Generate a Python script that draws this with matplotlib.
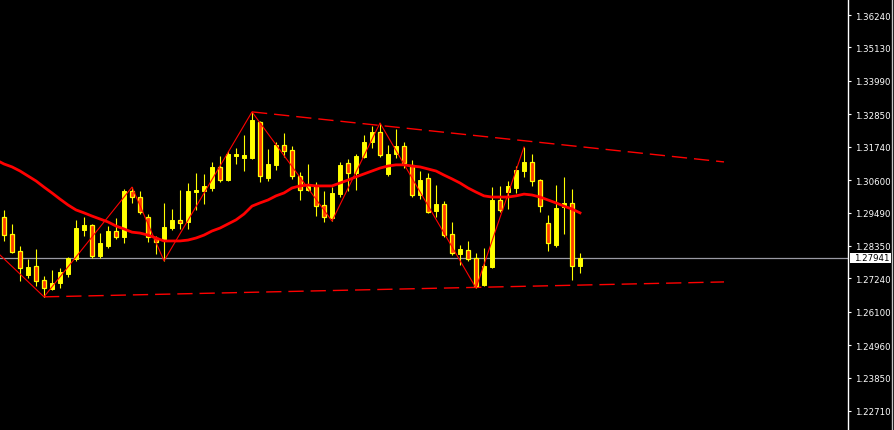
import numpy as np
import matplotlib
matplotlib.use("Agg")
import matplotlib.pyplot as plt
from matplotlib.patches import Rectangle
from matplotlib.lines import Line2D
import matplotlib.transforms as mtransforms

# candles, oldest first
opens = [1.2934, 1.2876, 1.2818, 1.2736, 1.2767, 1.2719, 1.2688, 1.2708, 1.2739, 1.2790,
         1.2889, 1.2906, 1.2801, 1.2835, 1.2886, 1.2866, 1.3023, 1.3002, 1.2934, 1.2862,
         1.2855, 1.2896, 1.2924, 1.2917, 1.3019, 1.3023, 1.3033, 1.3105, 1.3060, 1.3142,
         1.3135, 1.3135, 1.3258, 1.3067, 1.3112, 1.3180, 1.3163, 1.3074, 1.3026, 1.3043,
         1.2975, 1.2930, 1.3012, 1.3118, 1.3084, 1.3139, 1.3190, 1.3224, 1.3081, 1.3149,
         1.3176, 1.3112, 1.3009, 1.3067, 1.2954, 1.2978, 1.2876, 1.2807, 1.2821, 1.2794,
         1.2701, 1.2763, 1.2992, 1.3019, 1.3033, 1.3091, 1.3122, 1.3060, 1.2913, 1.2838,
         1.2968, 1.2982, 1.2767]
highs = [1.2958, 1.2910, 1.2835, 1.2790, 1.2824, 1.2732, 1.2753, 1.2760, 1.2797, 1.2924,
         1.2934, 1.2910, 1.2879, 1.2903, 1.2930, 1.3030, 1.3036, 1.3023, 1.2944, 1.2869,
         1.2982, 1.2961, 1.3026, 1.3050, 1.3084, 1.3081, 1.3122, 1.3142, 1.3159, 1.3170,
         1.3214, 1.3293, 1.3262, 1.3166, 1.3190, 1.3221, 1.3176, 1.3088, 1.3115, 1.3053,
         1.3023, 1.3036, 1.3122, 1.3132, 1.3149, 1.3214, 1.3245, 1.3255, 1.3180, 1.3234,
         1.3190, 1.3129, 1.3091, 1.3084, 1.3043, 1.2989, 1.2917, 1.2838, 1.2852, 1.2811,
         1.2828, 1.3036, 1.3040, 1.3057, 1.3108, 1.3173, 1.3149, 1.3064, 1.2941, 1.3043,
         1.3071, 1.3030, 1.2811]
lows = [1.2852, 1.2811, 1.2715, 1.2725, 1.2698, 1.2661, 1.2684, 1.2691, 1.2729, 1.2784,
        1.2869, 1.2794, 1.2794, 1.2828, 1.2859, 1.2845, 1.2982, 1.2944, 1.2848, 1.2807,
        1.2784, 1.2889, 1.2893, 1.2893, 1.2958, 1.2978, 1.3023, 1.3053, 1.3057, 1.3115,
        1.3091, 1.3132, 1.3053, 1.3057, 1.3094, 1.3139, 1.3064, 1.2992, 1.3023, 1.2937,
        1.2917, 1.2920, 1.3002, 1.3023, 1.3026, 1.3135, 1.3170, 1.3139, 1.3074, 1.3135,
        1.3101, 1.3002, 1.2995, 1.2948, 1.2934, 1.2866, 1.2804, 1.2770, 1.2784, 1.2691,
        1.2698, 1.2760, 1.2951, 1.2961, 1.3016, 1.3071, 1.3040, 1.2951, 1.2818, 1.2831,
        1.2876, 1.2719, 1.2743]
closes = [1.2872, 1.2814, 1.2760, 1.2763, 1.2715, 1.2691, 1.2708, 1.2746, 1.2794, 1.2896,
          1.2906, 1.2801, 1.2845, 1.2886, 1.2866, 1.3023, 1.3002, 1.2951, 1.2866, 1.2848,
          1.2900, 1.2924, 1.2913, 1.3023, 1.3026, 1.3040, 1.3105, 1.3060, 1.3149, 1.3149,
          1.3146, 1.3265, 1.3074, 1.3115, 1.3180, 1.3159, 1.3074, 1.3026, 1.3040, 1.2971,
          1.2934, 1.3016, 1.3112, 1.3084, 1.3142, 1.3190, 1.3224, 1.3146, 1.3149, 1.3176,
          1.3118, 1.3009, 1.3060, 1.2951, 1.2978, 1.2872, 1.2811, 1.2824, 1.2790, 1.2698,
          1.2767, 1.2992, 1.2958, 1.3040, 1.3094, 1.3122, 1.3057, 1.2971, 1.2845, 1.2965,
          1.2982, 1.2767, 1.27941]

# moving average, starts one bar before the first visible candle
ma_values = [1.3129, 1.3115, 1.3105, 1.3091, 1.3074, 1.3057, 1.3036, 1.3016, 1.2995, 1.2975,
             1.2958, 1.2948, 1.2937, 1.2927, 1.2917, 1.2903, 1.2893, 1.2882, 1.2879, 1.2872,
             1.2862, 1.2852, 1.2852, 1.2852, 1.2855, 1.2862, 1.2872, 1.2886, 1.2896, 1.2910,
             1.2924, 1.2944, 1.2971, 1.2982, 1.2992, 1.3006, 1.3016, 1.3033, 1.3040, 1.3043,
             1.3040, 1.3040, 1.3040, 1.3050, 1.3060, 1.3071, 1.3081, 1.3091, 1.3101, 1.3108,
             1.3112, 1.3112, 1.3108, 1.3105, 1.3098, 1.3091, 1.3077, 1.3064, 1.3050, 1.3033,
             1.3019, 1.3006, 1.3002, 1.3002, 1.3002, 1.3006, 1.3012, 1.3009, 1.3002, 1.2992,
             1.2982, 1.2971, 1.2961, 1.2948]

# zigzag pivots (bar index, price)
zz_idx = [-0.5, 5, 16, 20, 31, 41, 47, 59, 65]
zz_price = [1.2804, 1.2661, 1.3036, 1.2784, 1.3293, 1.2920, 1.3255, 1.2691, 1.3173]

# trend lines (bar index, price)
upper_idx = [31, 90]
upper_price = [1.3293, 1.3122]
lower_idx = [5, 90]
lower_price = [1.2661, 1.2712]

last_price = 1.27941
yticks = [1.36240, 1.35130, 1.33990, 1.32850, 1.31740, 1.30600, 1.29490,
          1.28350, 1.27240, 1.26100, 1.24960, 1.23850, 1.22710]

fig = plt.figure(figsize=(8.95, 4.31), dpi=100, facecolor='black')
ax = fig.add_axes([0, 0, 848 / 895, 1])
ax.set_facecolor('black')

n = len(opens)
x = np.arange(n)
o = np.array(opens); c = np.array(closes)
h = np.array(highs); l = np.array(lows)
up = c >= o

ax.vlines(x, l, h, color='#ffff00', lw=0.8, zorder=3)
body_lo = np.minimum(o, c)
body_h = np.maximum(np.abs(c - o), 0.0003)
ax.bar(x[up], body_h[up], bottom=body_lo[up], width=0.55,
       color='#ffff00', edgecolor='#ffff00', lw=0.7, zorder=4)
ax.bar(x[~up], body_h[~up], bottom=body_lo[~up], width=0.55,
       color='#ff3a00', edgecolor='#ffff00', lw=0.9, zorder=4)

ax.plot(np.arange(-1, n), ma_values, color='#ff0000', lw=2.0, zorder=5)
ax.plot(zz_idx, zz_price, color='#ff0000', lw=0.8, zorder=5)
ax.plot(upper_idx, upper_price, color='#ff0000', lw=1.0, ls=(0, (11, 5)), zorder=2)
ax.plot(lower_idx, lower_price, color='#ff0000', lw=1.0, ls=(0, (11, 5)), zorder=2)

ax.axhline(last_price, color='#9a9aa4', lw=0.9, zorder=1)

ax.set_xlim(-0.5, 105.5)
ax.set_ylim(1.220607, 1.367867)

ax.yaxis.tick_right()
ax.set_yticks(yticks)
ax.set_yticklabels(['%.5f' % v for v in yticks])
ax.tick_params(axis='y', colors='white', labelcolor='white', length=2.5, width=0.8,
               pad=2.5, labelsize=6.2)
ax.set_xticks([])
for s in ['top', 'bottom', 'left']:
    ax.spines[s].set_visible(False)
ax.spines['right'].set_color('white')
ax.spines['right'].set_linewidth(1.0)

# last price box on the price scale
tr = mtransforms.blended_transform_factory(fig.transFigure, ax.transData)
box_h = 10 * (1.367867 - 1.220607) / 431
fig.patches.append(Rectangle((850 / 895, last_price - box_h / 2), 41 / 895, box_h,
                             transform=tr, facecolor='white', edgecolor='none', zorder=10))
fig.text(854 / 895, last_price, '%.5f' % last_price, transform=tr, color='black',
         fontsize=6.2, va='center', ha='left', zorder=11)

fig.lines.append(Line2D([892 / 895, 892 / 895], [0, 1], transform=fig.transFigure,
                        color='#c8c8c8', lw=1.0))

fig.savefig('out.png', dpi=100, facecolor='black')
